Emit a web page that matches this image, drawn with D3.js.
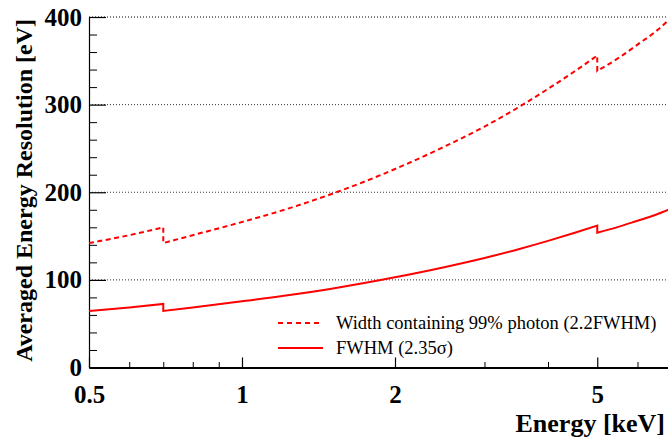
<!DOCTYPE html>
<html>
<head>
<meta charset="utf-8">
<script src="https://cdn.jsdelivr.net/npm/d3@7"></script>
<style>
  html, body { margin: 0; padding: 0; background: #fff; }
  svg { display: block; }
</style>
</head>
<body>
<svg id="chart" width="668" height="441"></svg>
<script>
// Energy grid in keV; repeated energies mark the absorption-edge steps.
const energy   = [0.5, 0.6, 0.7, 0.7, 0.8, 1.0, 1.25, 1.5, 2.0, 2.5, 3.0, 3.5, 4.0, 4.5, 5.0, 5.0, 5.5, 6.0, 6.5, 7.0];
// FWHM (2.35 sigma), eV
const fwhm     = [64.5, 68.5, 72.5, 64.5, 68.5, 75.5, 83, 90, 103, 114.5, 125, 135, 144.5, 153.5, 162, 153.8, 160.5, 167.5, 174, 181.5];
// Width containing 99% of photons (2.2 FWHM), eV
const width99  = [142, 151, 160, 142, 151, 166, 182.5, 198, 226.5, 252, 275, 297, 318, 337.5, 356, 338.5, 353, 368.5, 383, 399.5];

const seriesNames = ["Width containing 99% photon (2.2FWHM)", "FWHM (2.35\u03c3)"];

const yMajorTicks = [0, 100, 200, 300, 400];
const yMinorTicks = [20, 40, 60, 80, 120, 140, 160, 180, 220, 240, 260, 280, 320, 340, 360, 380];
const xMajorTicks = [0.5, 1, 2, 5];
const xMajorLabels = ["0.5", "1", "2", "5"];
const xMinorTicks = [0.6, 0.7, 0.8, 0.9, 3, 4, 6];

const RED = "#ff0000";
const SERIF = "'Liberation Serif', 'Times New Roman', serif";

const svg = d3.select("#chart");
const W = 668, H = 441;
const plotLeft = 89, plotTop = 17, plotBottom = 367.5;

const x = d3.scaleLog().domain([0.5, 7]).range([plotLeft, plotLeft + 153 * Math.log2(14)]);
const y = d3.scaleLinear().domain([0, 400]).range([plotBottom, plotTop]);

svg.append("rect").attr("width", W).attr("height", H).attr("fill", "#fff");

// horizontal dotted grid
svg.append("g").selectAll("line")
  .data(yMajorTicks.filter(d => d > 0))
  .join("line")
  .attr("x1", plotLeft).attr("x2", W)
  .attr("y1", d => y(d)).attr("y2", d => y(d))
  .attr("stroke", d => d === 400 ? "#555" : "#333")
  .attr("stroke-width", d => d === 400 ? 1.6 : 1)
  .attr("stroke-dasharray", "1,2");

// y axis: ticks point inward
const yAxis = svg.append("g").attr("transform", `translate(${plotLeft},0)`)
  .call(d3.axisLeft(y).tickValues(yMajorTicks).tickSizeInner(-17).tickSizeOuter(0).tickPadding(7).tickFormat(d3.format("d")));
yAxis.select(".domain").attr("stroke", "#000").attr("stroke-width", 1.2);
yAxis.selectAll(".tick line").attr("stroke", "#000").attr("stroke-width", 1.2);
yAxis.selectAll("text").attr("font-family", SERIF).attr("font-weight", "bold")
  .attr("font-size", 25).attr("fill", "#000");

const yMinor = svg.append("g").attr("transform", `translate(${plotLeft},0)`)
  .call(d3.axisLeft(y).tickValues(yMinorTicks).tickSizeInner(-8).tickSizeOuter(0).tickFormat(""));
yMinor.select(".domain").remove();
yMinor.selectAll(".tick line").attr("stroke", "#000").attr("stroke-width", 1);

// x axis: log scale, ticks point inward
const xAxis = svg.append("g").attr("transform", `translate(0,${plotBottom})`)
  .call(d3.axisBottom(x).tickValues(xMajorTicks).tickSizeInner(-10).tickSizeOuter(0).tickPadding(18)
    .tickFormat((d, i) => xMajorLabels[i]));
xAxis.select(".domain").attr("stroke", "#000").attr("stroke-width", 2);
xAxis.selectAll(".tick line").attr("stroke", "#000").attr("stroke-width", 1.2);
xAxis.selectAll("text").attr("font-family", SERIF).attr("font-weight", "bold")
  .attr("font-size", 25).attr("fill", "#000");

const xMinor = svg.append("g").attr("transform", `translate(0,${plotBottom})`)
  .call(d3.axisBottom(x).tickValues(xMinorTicks).tickSizeInner(-5.5).tickSizeOuter(0).tickFormat(""));
xMinor.select(".domain").remove();
xMinor.selectAll(".tick line").attr("stroke", "#000").attr("stroke-width", 1);

// axis titles
svg.append("text")
  .attr("x", 665).attr("y", 432)
  .attr("text-anchor", "end")
  .attr("font-family", SERIF).attr("font-weight", "bold").attr("font-size", 26)
  .text("Energy [keV]");

svg.append("text")
  .attr("transform", "translate(32,19) rotate(-90)")
  .attr("text-anchor", "end")
  .attr("font-family", SERIF).attr("font-weight", "bold").attr("font-size", 24)
  .text("Averaged Energy Resolution [eV]");

// curves: smooth runs joined by vertical steps where the energy repeats
function stepPath(xs, ys) {
  const runs = [];
  let run = [];
  xs.forEach((e, i) => {
    if (i > 0 && e === xs[i - 1]) { runs.push(run); run = []; }
    run.push([e, ys[i]]);
  });
  runs.push(run);
  const line = d3.line().x(d => x(d[0])).y(d => y(d[1])).curve(d3.curveMonotoneX);
  return runs.map((r, i) => {
    const p = line(r);
    return i === 0 ? p : "L" + p.slice(1);
  }).join("");
}

svg.append("defs").append("clipPath").attr("id", "plot-clip")
  .append("rect").attr("x", plotLeft).attr("y", plotTop - 2).attr("width", W - plotLeft).attr("height", plotBottom - plotTop + 2);

const plot = svg.append("g").attr("clip-path", "url(#plot-clip)");

plot.append("path")
  .attr("d", stepPath(energy, width99))
  .attr("fill", "none").attr("stroke", RED).attr("stroke-width", 2)
  .attr("stroke-dasharray", "5,3.5");

plot.append("path")
  .attr("d", stepPath(energy, fwhm))
  .attr("fill", "none").attr("stroke", RED).attr("stroke-width", 2);

// legend
const legend = svg.append("g");
const legendRows = [
  { name: seriesNames[0], dash: "5,4", cy: 323 },
  { name: seriesNames[1], dash: null, cy: 348 }
];
legendRows.forEach(r => {
  legend.append("line")
    .attr("x1", 278).attr("x2", 323).attr("y1", r.cy).attr("y2", r.cy)
    .attr("stroke", RED).attr("stroke-width", 2)
    .attr("stroke-dasharray", r.dash);
  legend.append("text")
    .attr("x", 336).attr("y", r.cy + 6.3)
    .attr("font-family", SERIF).attr("font-size", 18.5).attr("fill", "#000")
    .text(r.name);
});
</script>
</body>
</html>
